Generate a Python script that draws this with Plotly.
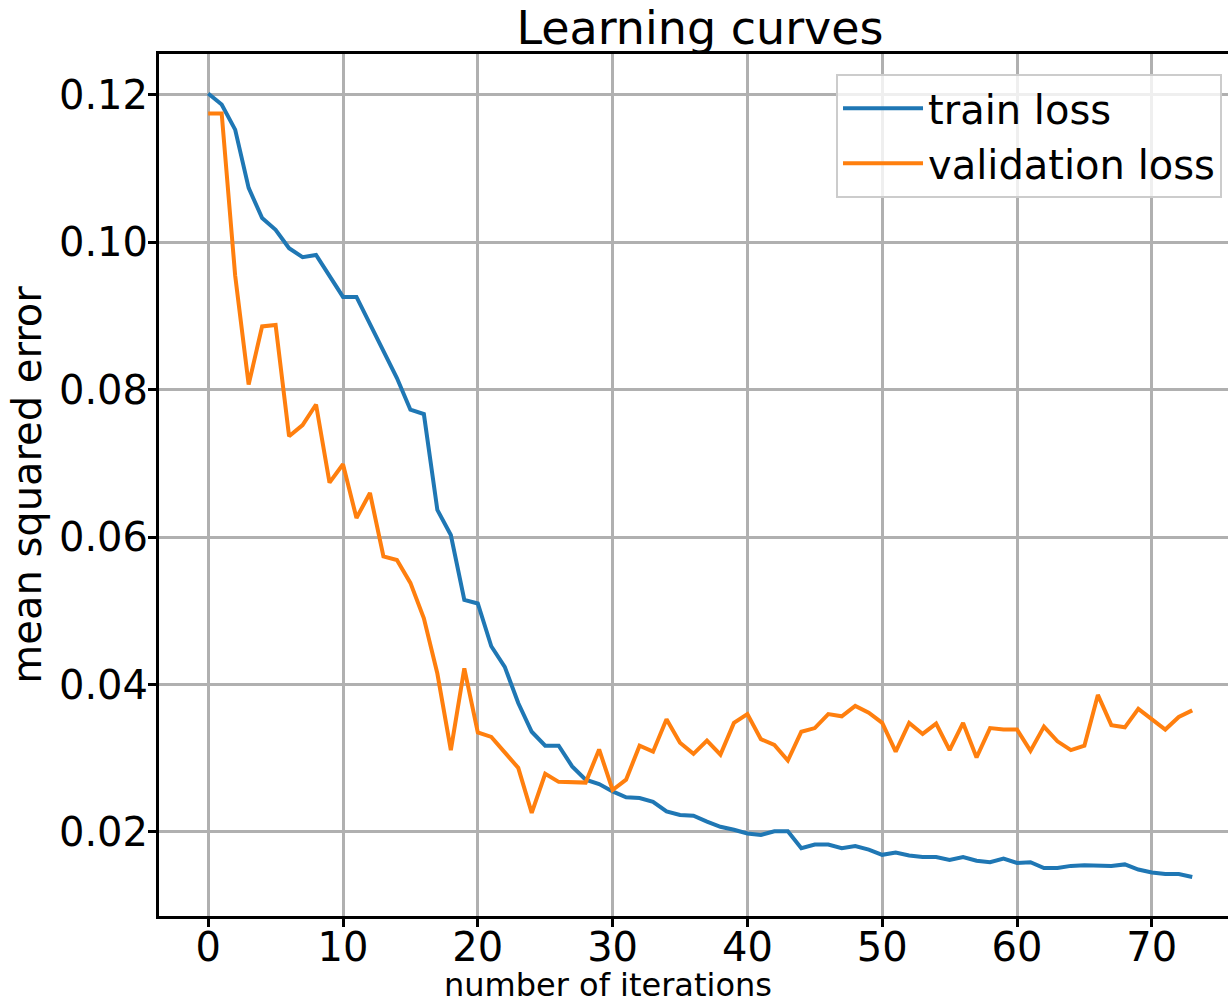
import plotly.graph_objects as go

iterations = list(range(74))

train_loss = [
    0.1202, 0.1187, 0.1153, 0.1074, 0.1033, 0.1017, 0.0992, 0.0980, 0.0983, 0.0954,
    0.0926, 0.0926, 0.0890, 0.0854, 0.0816, 0.0773, 0.0767, 0.0637, 0.0603, 0.0515,
    0.0510, 0.0452, 0.0424, 0.0375, 0.0336, 0.0317, 0.0317, 0.0289, 0.0271, 0.0265,
    0.0255, 0.0247, 0.0246, 0.0241, 0.0228, 0.0223, 0.0222, 0.0214, 0.0207, 0.0203,
    0.0198, 0.0196, 0.0201, 0.0201, 0.0178, 0.0183, 0.0183, 0.0178, 0.0181, 0.0176,
    0.0169, 0.0172, 0.0168, 0.0166, 0.0166, 0.0162, 0.0166, 0.0161, 0.0159, 0.0164,
    0.0158, 0.0159, 0.0151, 0.0151, 0.0154, 0.0155, 0.0154, 0.0154, 0.0156, 0.0149,
    0.0145, 0.0143, 0.0143, 0.0139,
]

validation_loss = [
    0.1175, 0.1175, 0.0955, 0.0807, 0.0886, 0.0888, 0.0737, 0.0752, 0.0780, 0.0674,
    0.0699, 0.0626, 0.0660, 0.0574, 0.0569, 0.0538, 0.0490, 0.0415, 0.0311, 0.0422,
    0.0335, 0.0329, 0.0308, 0.0287, 0.0226, 0.0279, 0.0268, 0.0267, 0.0267, 0.0312,
    0.0257, 0.0271, 0.0317, 0.0309, 0.0353, 0.0321, 0.0306, 0.0324, 0.0305, 0.0348,
    0.0360, 0.0326, 0.0318, 0.0297, 0.0336, 0.0341, 0.0360, 0.0357, 0.0371, 0.0362,
    0.0348, 0.0309, 0.0348, 0.0333, 0.0347, 0.0311, 0.0348, 0.0301, 0.0341, 0.0339,
    0.0339, 0.0310, 0.0343, 0.0323, 0.0311, 0.0317, 0.0386, 0.0345, 0.0342, 0.0367,
    0.0353, 0.0339, 0.0356, 0.0365,
]

x_ticks = [0, 10, 20, 30, 40, 50, 60, 70]
y_ticks = [0.02, 0.04, 0.06, 0.08, 0.10, 0.12]
y_tick_labels = ["0.02", "0.04", "0.06", "0.08", "0.10", "0.12"]

FONT = "DejaVu Sans"

fig = go.Figure()
fig.add_trace(go.Scatter(x=iterations, y=train_loss, mode="lines", name="train loss",
                         line=dict(color="#1f77b4", width=4)))
fig.add_trace(go.Scatter(x=iterations, y=validation_loss, mode="lines", name="validation loss",
                         line=dict(color="#ff7f0e", width=4)))

fig.update_layout(
    width=1228, height=1008,
    margin=dict(l=159, r=0, t=54, b=92),
    paper_bgcolor="white", plot_bgcolor="white",
    font=dict(family=FONT, color="black", size=40),
    title=dict(text="Learning curves", x=(159 + 1241) / 2 / 1228, xanchor="center",
               xref="container", yref="container", y=1 - 28 / 1008, yanchor="middle",
               font=dict(size=46, family=FONT, color="black")),
    showlegend=True,
    legend=dict(x=0.9944, xanchor="right", y=0.977, yanchor="top",
                bgcolor="rgba(255,255,255,0.8)", bordercolor="#cccccc", borderwidth=2,
                font=dict(size=40, family=FONT, color="black"), itemwidth=80,
                tracegroupgap=0),
)

fig.update_xaxes(
    range=[-3.65, -3.65 + (1228 - 159) / 13.48],
    tickvals=x_ticks, ticktext=[str(v) for v in x_ticks],
    showgrid=True, gridcolor="#b0b0b0", gridwidth=2.5,
    showline=True, linecolor="black", linewidth=3, mirror=True,
    ticks="outside", ticklen=8, tickwidth=3, tickcolor="black",
    zeroline=False, tickfont=dict(size=40, family=FONT), ticklabelstandoff=-14,
)
fig.update_yaxes(
    range=[0.0086, 0.12556],
    tickvals=y_ticks, ticktext=y_tick_labels,
    showgrid=True, gridcolor="#b0b0b0", gridwidth=2.5,
    showline=True, linecolor="black", linewidth=3,
    ticks="outside", ticklen=8, tickwidth=3, tickcolor="black",
    zeroline=False, tickfont=dict(size=40, family=FONT), ticklabelstandoff=-8,
    title=dict(text="mean squared error", font=dict(size=40, family=FONT), standoff=5),
)

fig.add_annotation(text="number of iterations", xref="paper", yref="paper",
                   x=(608 - 159) / 1069, y=-(985 - 916) / 862, xanchor="center", yanchor="middle",
                   showarrow=False, font=dict(size=32, family=FONT, color="black"))

fig.write_html("out.html", config={"displayModeBar": False},
               post_script="document.body.style.margin='0px';")
